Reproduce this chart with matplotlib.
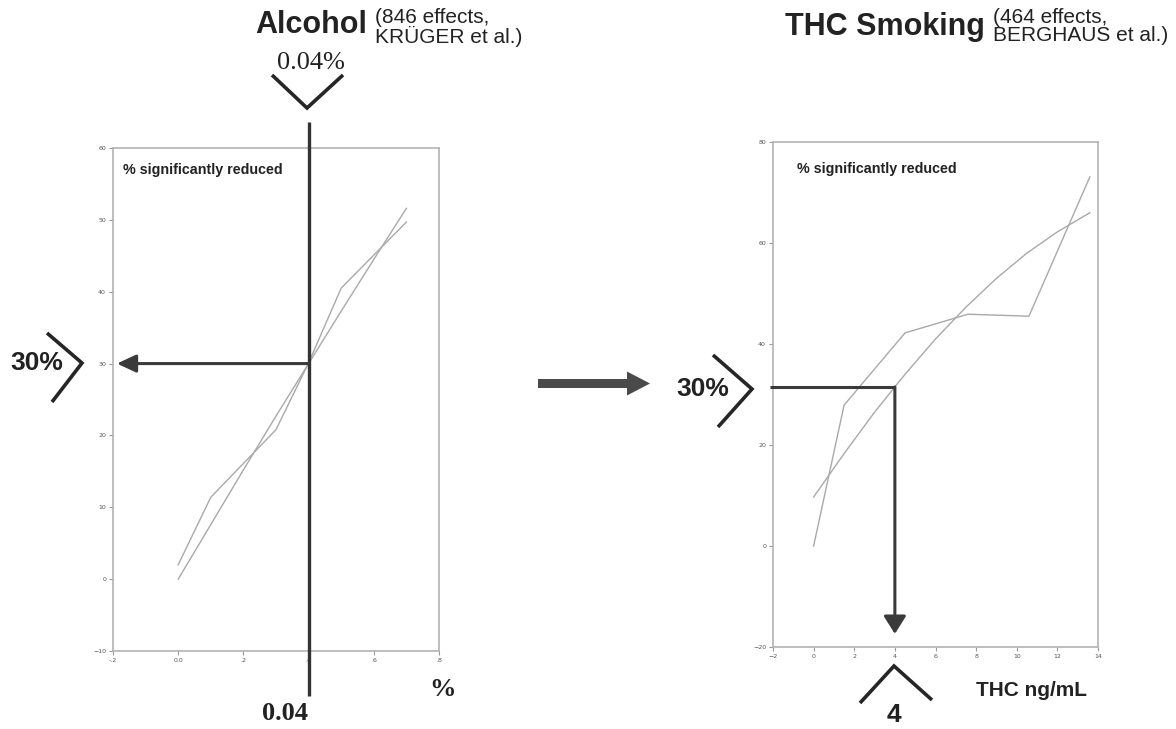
import matplotlib
matplotlib.use('Agg')
import matplotlib.pyplot as plt
from matplotlib.patches import FancyArrow

# ---------------- data ----------------
# Alcohol panel (BAC in per mille on x, % significantly reduced on y)
alc_x_a = [0.0, 0.1, 0.3, 0.4, 0.5, 0.7]
alc_y_a = [2.0, 11.4, 20.8, 30.1, 40.5, 49.7]
alc_x_b = [0.0, 0.1, 0.2, 0.3, 0.4, 0.5, 0.6, 0.7]
alc_y_b = [0.0, 7.6, 15.2, 22.7, 30.0, 37.3, 44.5, 51.6]
alc_xticks = [-0.2, 0.0, 0.2, 0.4, 0.6, 0.8]
alc_xticklabels = ['-.2', '0.0', '.2', '.4', '.6', '.8']
alc_yticks = [-10, 0, 10, 20, 30, 40, 50, 60]
alc_level = 30      # 30 % reduced
alc_at = 0.4        # 0.04 % BAC

# THC panel (THC ng/mL on x)
thc_x_c = [0.0, 1.5, 4.5, 7.6, 10.6, 13.6]
thc_y_c = [0.0, 27.9, 42.2, 45.9, 45.5, 73.1]
thc_x_d = [0.0, 1.5, 3.0, 4.5, 6.0, 7.5, 9.0, 10.5, 12.0, 13.6]
thc_y_d = [9.7, 18.3, 26.5, 34.0, 41.0, 47.3, 53.0, 58.0, 62.2, 66.0]
thc_xticks = [-2, 0, 2, 4, 6, 8, 10, 12, 14]
thc_yticks = [-20, 0, 20, 40, 60, 80]
thc_level = 31.5
thc_at = 4

W, H = 1176, 729
fig = plt.figure(figsize=(W / 100, H / 100), dpi=100)
fig.patch.set_facecolor('white')

SANS = 'Liberation Sans'
SERIF = 'Liberation Serif'
LINEC = '#a9a9a9'
DARK = '#3a3a3a'


def style_axes(ax):
    for s in ax.spines.values():
        s.set_color('#b3b3b3')
        s.set_linewidth(1.2)
    ax.tick_params(axis='both', length=3, width=0.8, color='#999999',
                   labelsize=4.5, labelcolor='#555555', pad=2)


def px_ax(x0, x1, ytop, ybot):
    return [x0 / W, 1 - ybot / H, (x1 - x0) / W, (ybot - ytop) / H]


# ---------------- Alcohol panel ----------------
ax1 = fig.add_axes(px_ax(113, 439, 148, 651))
ax1.plot(alc_x_a, alc_y_a, color=LINEC, lw=1.0)
ax1.plot(alc_x_b, alc_y_b, color=LINEC, lw=1.0)
ax1.set_xlim(-0.2, 0.8)
ax1.set_ylim(-10, 60)
ax1.set_xticks(alc_xticks)
ax1.set_xticklabels(alc_xticklabels)
ax1.set_yticks(alc_yticks)
style_axes(ax1)
ax1.text(0.03, 0.97, '% significantly reduced', transform=ax1.transAxes,
         fontsize=10.3, fontweight='bold', family=SANS, color='#222222',
         ha='left', va='top')
# vertical line at 0.04 %
ax1.plot([alc_at, alc_at], [63.6, -16.3], color='#333333', lw=2.4,
         clip_on=False, solid_capstyle='butt', zorder=5)
# arrow to 30 %
ax1.annotate('', xy=(-0.188, alc_level), xytext=(alc_at, alc_level),
             arrowprops=dict(arrowstyle='-|>,head_length=0.58,head_width=0.27',
                             mutation_scale=20, lw=2.2, color=DARK,
                             shrinkA=0, shrinkB=0), zorder=5)

# ---------------- THC panel ----------------
ax2 = fig.add_axes(px_ax(773, 1098, 142, 647))
ax2.plot(thc_x_c, thc_y_c, color=LINEC, lw=1.0)
ax2.plot(thc_x_d, thc_y_d, color=LINEC, lw=1.0)
ax2.set_xlim(-2, 14)
ax2.set_ylim(-20, 80)
ax2.set_xticks(thc_xticks)
ax2.set_yticks(thc_yticks)
style_axes(ax2)
ax2.text(0.075, 0.96, '% significantly reduced', transform=ax2.transAxes,
         fontsize=10.3, fontweight='bold', family=SANS, color='#222222',
         ha='left', va='top')
ax2.plot([-2.15, thc_at], [thc_level, thc_level], color=DARK, lw=2.2,
         clip_on=False, solid_capstyle='butt', zorder=5)
ax2.annotate('', xy=(thc_at, -17.4), xytext=(thc_at, thc_level),
             arrowprops=dict(arrowstyle='-|>,head_length=0.54,head_width=0.34',
                             mutation_scale=20, lw=2.2, color=DARK,
                             shrinkA=0, shrinkB=0), zorder=5)

# ---------------- overlay (pixel coordinates) ----------------
ov = fig.add_axes([0, 0, 1, 1], zorder=10)
ov.set_xlim(0, W)
ov.set_ylim(H, 0)
ov.axis('off')
ov.patch.set_alpha(0)

CHEV = dict(color='#262626', lw=2.6, solid_capstyle='butt', solid_joinstyle='miter')
# top V for alcohol
ov.plot([272, 307, 343], [75, 108, 75], **CHEV)
# left > at 30 %
ov.plot([47, 82, 52], [333, 363, 402], **CHEV)
# right > at 30 %
ov.plot([713, 752, 718], [355, 389, 427], **CHEV)
# bottom ^ at 4 ng/mL
ov.plot([860, 894, 932], [703, 666, 700], **CHEV)

# middle arrow
ov.add_patch(FancyArrow(538, 383.5, 112, 0, width=9, head_width=24,
                        head_length=23, length_includes_head=True,
                        color='#4a4a4a', lw=0))

# titles
ov.text(367, 33, 'Alcohol', fontsize=22, fontweight='bold', family=SANS,
        ha='right', va='baseline', color='#222222')
ov.text(375, 8, '(846 effects,\nKRÜGER et al.)', fontsize=15, family=SANS,
        ha='left', va='top', color='#222222', linespacing=0.92)
ov.text(985, 35, 'THC Smoking', fontsize=22, fontweight='bold', family=SANS,
        ha='right', va='baseline', color='#222222')
ov.text(993, 8, '(464 effects,\nBERGHAUS et al.)', fontsize=15, family=SANS,
        ha='left', va='top', color='#222222', linespacing=0.92)

ov.text(311, 63, '0.04%', fontsize=19, family=SERIF, ha='center', va='center',
        color='#222222')
ov.text(285, 714, '0.04', fontsize=19, fontweight='bold', family=SERIF,
        ha='center', va='center', color='#222222')
ov.text(443, 690, '%', fontsize=19, fontweight='bold', family=SERIF,
        ha='center', va='center', color='#222222')
ov.text(37, 363, '30%', fontsize=19, fontweight='bold', family=SANS,
        ha='center', va='center', color='#222222')
ov.text(703, 389, '30%', fontsize=19, fontweight='bold', family=SANS,
        ha='center', va='center', color='#222222')
ov.text(894, 727, '4', fontsize=19, fontweight='bold', family=SANS,
        ha='center', va='bottom', color='#222222')
ov.text(1031, 690, 'THC ng/mL', fontsize=15, fontweight='bold', family=SANS,
        ha='center', va='center', color='#222222')

fig.savefig('out.png', dpi=100, facecolor='white')
